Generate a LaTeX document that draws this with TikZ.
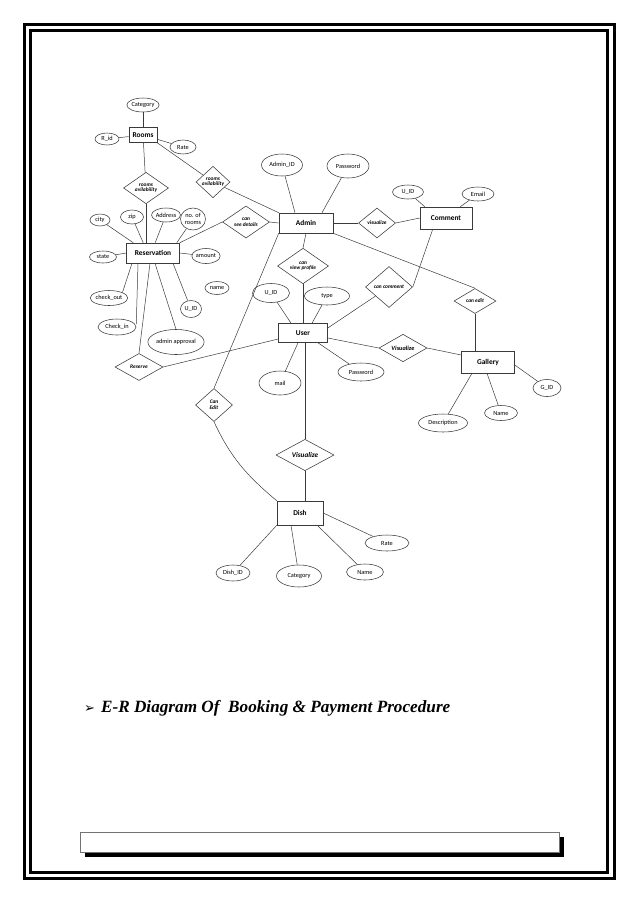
\documentclass[tikz,border=0pt]{standalone}
\usepackage{fontspec}
\setmainfont{Liberation Serif}
\newfontfamily\erfont{Carlito}
\newfontfamily\symfont{DejaVu Sans}
\usetikzlibrary{shapes.geometric,shadows}
\definecolor{ink}{HTML}{3A3A3A}
\tikzset{
  entity/.style={draw=ink, line width=.6pt, minimum width=50pt, minimum height=20pt,
    inner sep=0pt, font=\erfont\bfseries\fontsize{7.4}{8}\selectfont},
  attrib/.style={ellipse, draw=ink, line width=.55pt, inner sep=0pt, align=center,
    minimum width=28pt, minimum height=14pt, font=\erfont\fontsize{6.3}{6.6}\selectfont},
  relship/.style={diamond, draw=ink, line width=.55pt, inner sep=0pt, align=center,
    font=\erfont\bfseries\itshape\fontsize{5.4}{5.8}\selectfont},
  conn/.style={draw=ink, line width=.5pt},
  frameline/.style={draw=black, line width=3pt},
  footbox/.style={draw=black!55, fill=white, line width=.6pt,
    drop shadow={shadow xshift=5pt, shadow yshift=-5pt, fill=black, opacity=1}}
}

\begin{document}
\begin{tikzpicture}[x=1pt,y=-1pt]
  \useasboundingbox (0,0) rectangle (638,903);
  % page frame
  \draw[frameline] (24,24) rectangle (614,878.5);
  \draw[frameline] (30.5,30.5) rectangle (607.5,872);

  % rooms
  \node[entity, minimum width=28pt, minimum height=15pt] (rooms) at (143,135) {Rooms};
  \node[attrib, minimum width=30pt] (roomcat) at (143,105) {Category};
  \node[attrib, minimum width=24pt, minimum height=12pt] (rid) at (107,139) {R\_id};
  \node[attrib, minimum width=26pt] (roomrate) at (183,147) {Rate};
  \node[relship, minimum width=45pt, minimum height=22pt] (availl) at (146,188) {rooms\\avilability};
  \node[relship, minimum width=34pt, minimum height=29pt] (availr) at (213,182) {rooms\\avilability};

  % reservation
  \node[entity, minimum width=53pt] (res) at (153,253) {Reservation};
  \node[attrib, minimum width=20pt, minimum height=12pt] (city) at (100,220) {city};
  \node[attrib, minimum width=23pt] (zip) at (132,217) {zip};
  \node[attrib, minimum width=26pt] (address) at (166,215) {Address};
  \node[attrib, minimum width=25pt, minimum height=22pt, font=\erfont\fontsize{6.3}{6.3}\selectfont] (norooms) at (193,219) {no. of\\rooms};
  \node[attrib, minimum width=27pt, minimum height=12pt] (state) at (103,257) {state};
  \node[attrib, minimum width=28pt, minimum height=15pt] (amount) at (206,256) {amount};
  \node[attrib, minimum width=24pt, minimum height=13pt] (name) at (217,288) {name};
  \node[attrib, minimum width=35pt, minimum height=15pt] (checkout) at (109,298) {check\_out};
  \node[attrib, minimum width=21pt, minimum height=17pt] (resuid) at (191,309) {U\_ID};
  \node[attrib, minimum width=38pt, minimum height=16pt] (checkin) at (117,327) {Check\_in};
  \node[attrib, minimum width=52pt, minimum height=25pt] (approval) at (176,342) {admin approval};
  \node[relship, minimum width=48pt, minimum height=27pt] (reserve) at (139,367) {Reserve};
  \node[relship, minimum width=47pt, minimum height=23pt] (seedet) at (246,222) {can\\see details};

  % admin and comment
  \node[entity, minimum width=54pt] (admin) at (306,223) {Admin};
  \node[attrib, minimum width=41pt, minimum height=22pt] (adminid) at (282,165) {Admin\_ID};
  \node[attrib, minimum width=42pt, minimum height=24pt] (adminpwd) at (348,166) {Password};
  \node[relship, minimum width=37pt, minimum height=30pt] (vizcom) at (377,223) {visualize};
  \node[entity, minimum width=52pt, minimum height=22pt] (comment) at (446,218) {Comment};
  \node[attrib, minimum width=31pt] (comuid) at (408,192) {U\_ID};
  \node[attrib, minimum width=32pt] (email) at (478,194) {Email};
  \node[relship, minimum width=51pt, minimum height=25pt] (viewprof) at (303,266) {can\\view profile};
  \node[relship, minimum width=47pt, minimum height=41pt] (cancom) at (389,287) {can comment};
  \node[relship, minimum width=42pt, minimum height=25pt] (caneditg) at (475,301) {can edit};

  % user and gallery
  \node[entity, minimum width=49pt, minimum height=19pt] (user) at (303,333) {User};
  \node[attrib, minimum width=37pt, minimum height=19pt] (useruid) at (271,293) {U\_ID};
  \node[attrib, minimum width=45pt, minimum height=18pt] (type) at (327,296) {type};
  \node[attrib, minimum width=42pt, minimum height=24pt] (mail) at (280,383) {mail};
  \node[attrib, minimum width=46pt, minimum height=18pt] (userpwd) at (361,372) {Password};
  \node[relship, minimum width=48pt, minimum height=23pt, font=\erfont\bfseries\itshape\fontsize{6.3}{7}\selectfont] (vizgal) at (403,348) {Visualize};
  \node[entity, minimum width=53pt, minimum height=22pt] (gallery) at (488,362) {Gallery};
  \node[attrib, minimum width=28pt, minimum height=17pt] (gid) at (547,388) {G\_ID};
  \node[attrib, minimum width=33pt, minimum height=15pt] (galname) at (501,413) {Name};
  \node[attrib, minimum width=49pt, minimum height=18pt] (desc) at (443,423) {Description};

  % dish
  \node[relship, minimum width=37pt, minimum height=33pt] (canedit) at (214,405) {Can\\Edit};
  \node[relship, minimum width=58pt, minimum height=30pt, font=\erfont\bfseries\itshape\fontsize{7.2}{8}\selectfont] (vizdish) at (305,455) {Visualize};
  \node[entity, minimum width=46pt, minimum height=24pt] (dish) at (300,513) {Dish};
  \node[attrib, minimum width=44pt, minimum height=16pt] (dishrate) at (387,543) {Rate};
  \node[attrib, minimum width=37pt, minimum height=16pt] (dishname) at (365,572) {Name};
  \node[attrib, minimum width=45pt, minimum height=22pt] (dishcat) at (299,576) {Category};
  \node[attrib, minimum width=34pt, minimum height=16pt] (dishid) at (233,573) {Dish\_ID};

  % rooms links
  \draw[conn] (roomcat) -- (rooms);
  \draw[conn] (rid) -- (rooms);
  \draw[conn] (rooms) -- (roomrate);
  \draw[conn] (rooms) -- (availl);
  \draw[conn] (availl.south) -- (availl.south |- res.north);
  \draw[conn] (rooms.south east) -- (availr) -- (admin.north west);

  % reservation links
  \draw[conn] (city) -- ([xshift=7pt]res.north west);
  \draw[conn] (zip) -- ([xshift=17pt]res.north west);
  \draw[conn] (address) -- ([xshift=29pt]res.north west);
  \draw[conn] (norooms) -- ([xshift=-3pt]res.north east);
  \draw[conn] (seedet.west) -- (res.north east);
  \draw[conn] (state) -- (res.west);
  \draw[conn] (res.east) -- (amount);
  \draw[conn] ([xshift=-21pt]res.south) -- (checkout.north east);
  \draw[conn] ([xshift=-15pt]res.south) -- ([yshift=3pt]checkin.east);
  \draw[conn] ([xshift=-3pt]res.south) -- (reserve.north);
  \draw[conn] ([xshift=2pt]res.south) -- (approval.north);
  \draw[conn] ([xshift=20pt]res.south) -- (resuid);
  \draw[conn] (reserve.east) -- ([yshift=-6pt]user.west);

  % admin links
  \draw[conn] (seedet.east) -- (admin.west);
  \draw[conn] (adminid) -- ([xshift=-11pt]admin.north);
  \draw[conn] (adminpwd) -- ([xshift=16pt]admin.north);
  \draw[conn] (admin.east) -- (vizcom.west);
  \draw[conn] (vizcom.east) -- (comment.west);
  \draw[conn] (comuid) -- ([xshift=5pt]comment.north west);
  \draw[conn] (email) -- ([xshift=-12pt]comment.north east);
  \draw[conn] (admin.south) -- (viewprof.north);
  \draw[conn] (viewprof.south) -- (user.north);
  \draw[conn] (admin.south east) -- (caneditg.north);
  \draw[conn] (caneditg.south) -- (caneditg.south |- gallery.north);
  \draw[conn] ([xshift=13pt]comment.south west) -- (cancom.east);
  \draw[conn] (cancom) -- ([yshift=5pt]user.east);
  \draw[conn] (admin.south west) -- (canedit.north);
  \draw[conn] (canedit.south) to[out=-65,in=140] (dish.north west);

  % user links
  \draw[conn] (useruid) -- ([xshift=-12pt]user.north);
  \draw[conn] (type) -- ([xshift=9pt]user.north);
  \draw[conn] (mail) -- ([xshift=-5pt]user.south);
  \draw[conn] (userpwd) -- ([xshift=15pt]user.south);
  \draw[conn] ([yshift=-5pt]user.east) -- (vizgal.west);
  \draw[conn] (vizgal.east) -- ([yshift=7pt]gallery.west);
  \draw[conn] ([xshift=2pt]user.south) -- (vizdish.north);
  \draw[conn] (vizdish.south) -- ([xshift=5pt]dish.north);

  % gallery links
  \draw[conn] ([yshift=-3pt]gallery.east) -- (gid);
  \draw[conn] ([xshift=-1pt]gallery.south) -- (galname);
  \draw[conn] ([xshift=-16pt]gallery.south) -- (desc);

  % dish links
  \draw[conn] (dish.east) -- (dishrate);
  \draw[conn] ([xshift=-6pt]dish.south east) -- (dishname);
  \draw[conn] ([xshift=-9pt]dish.south) -- (dishcat);
  \draw[conn] (dish.south west) -- (dishid);

  % caption and footer
  \node[anchor=base west, inner sep=0pt, font=\fontsize{17.2}{19}\selectfont\bfseries\itshape] (title) at (84,712)
    {{\symfont\upshape\mdseries\fontsize{13}{14}\selectfont ➢}\hspace{6pt}E-R Diagram Of\ \ Booking \& Payment Procedure};
  \node[footbox, minimum width=479pt, minimum height=20pt] (footer) at (319.5,842) {};
\end{tikzpicture}
\end{document}
